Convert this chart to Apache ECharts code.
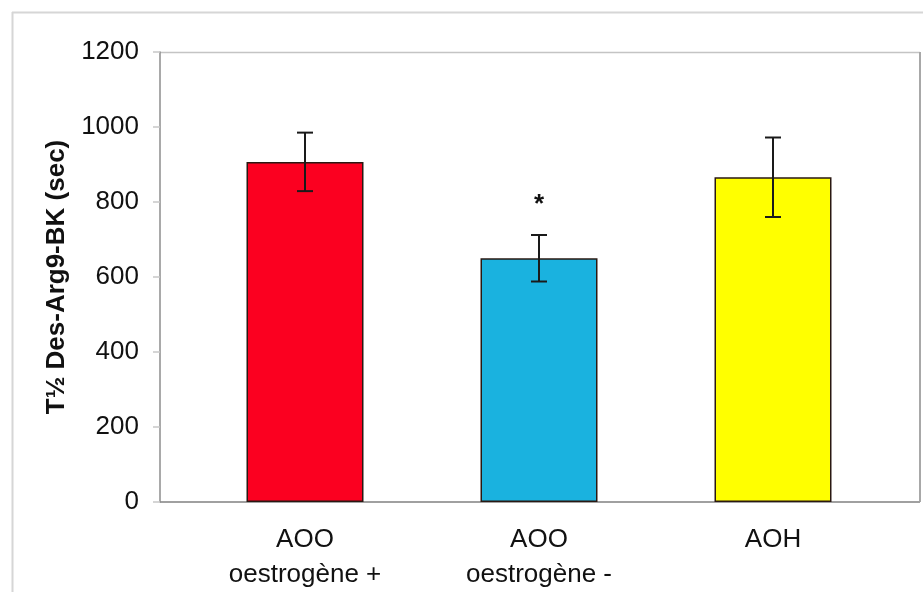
<!DOCTYPE html>
<html>
<head>
<meta charset="utf-8">
<script src="https://cdn.jsdelivr.net/npm/echarts@6/dist/echarts.min.js"></script>
<style>
  html, body { margin: 0; padding: 0; background: #fff; }
  #chart { width: 923px; height: 592px; }
</style>
</head>
<body>
<div id="chart"></div>
<script>
// Half-life of Des-Arg9-BK per group (mean ± SEM)
const categories = ['AOO\noestrogène +', 'AOO\noestrogène -', 'AOH'];
const means = [907, 650, 866];
const errors = [78, 62, 106];
const barColors = ['#fb0020', '#1ab2df', '#ffff00'];
const significance = ['', '*', ''];
const yTicks = { min: 0, max: 1200, interval: 200 };

const chart = echarts.init(document.getElementById('chart'), null, { renderer: 'canvas' });

const errorData = means.map((m, i) => [i, m - errors[i], m + errors[i], significance[i]]);
const FONT = 'Liberation Sans, Arial, sans-serif';

const option = {
  backgroundColor: '#ffffff',
  animation: false,
  grid: { left: 188, right: 33, top: 52, bottom: 90, containLabel: false },
  graphic: [
    // outer chart frame
    { type: 'line', shape: { x1: 12, y1: 12.5, x2: 923, y2: 12.5 }, style: { stroke: '#d6d6d6', lineWidth: 2 }, z: 0 },
    { type: 'line', shape: { x1: 12.5, y1: 12, x2: 12.5, y2: 592 }, style: { stroke: '#d6d6d6', lineWidth: 2 }, z: 0 },
    // plot area frame
    { type: 'line', shape: { x1: 160, y1: 52.5, x2: 920, y2: 52.5 }, style: { stroke: '#c4c4c4', lineWidth: 1.5 }, z: 0 },
    { type: 'line', shape: { x1: 920, y1: 52, x2: 920, y2: 502 }, style: { stroke: '#a8a8a8', lineWidth: 2 }, z: 0 },
    { type: 'line', shape: { x1: 160, y1: 502, x2: 920, y2: 502 }, style: { stroke: '#a0a0a0', lineWidth: 2 }, z: 0 }
  ],
  xAxis: {
    type: 'category',
    data: categories,
    axisLine: { show: false },
    axisTick: { show: false },
    axisLabel: {
      fontFamily: FONT,
      fontSize: 26,
      color: '#111',
      lineHeight: 35,
      verticalAlign: 'top',
      margin: 20
    }
  },
  yAxis: {
    type: 'value',
    min: yTicks.min,
    max: yTicks.max,
    interval: yTicks.interval,
    offset: 28,
    name: 'T½ Des-Arg9-BK (sec)',
    nameLocation: 'middle',
    nameGap: 86,
    nameTextStyle: {
      fontFamily: FONT,
      fontSize: 26,
      fontWeight: 'bold',
      color: '#111'
    },
    axisLine: { show: true, lineStyle: { color: '#8c8c8c', width: 1.5 } },
    axisTick: { show: true, length: 7, lineStyle: { color: '#c8c8c8', width: 1.5 } },
    splitLine: { show: false },
    axisLabel: {
      fontFamily: FONT,
      fontSize: 26,
      color: '#111',
      margin: 21,
      formatter: function (v) { return String(v); }
    }
  },
  series: [
    {
      type: 'bar',
      barWidth: 117,
      data: means.map((v, i) => ({
        value: v,
        itemStyle: { color: barColors[i], borderColor: '#2a1812', borderWidth: 1.5 }
      })),
      z: 2
    },
    {
      type: 'custom',
      data: errorData,
      z: 3,
      renderItem: function (params, api) {
        const i = api.value(0);
        const lo = api.coord([i, api.value(1)]);
        const hi = api.coord([i, api.value(2)]);
        const cap = 8;
        const style = { stroke: '#1a1a1a', lineWidth: 2 };
        const children = [
          { type: 'line', shape: { x1: hi[0], y1: hi[1], x2: lo[0], y2: lo[1] }, style: style },
          { type: 'line', shape: { x1: hi[0] - cap, y1: hi[1], x2: hi[0] + cap, y2: hi[1] }, style: style },
          { type: 'line', shape: { x1: lo[0] - cap, y1: lo[1], x2: lo[0] + cap, y2: lo[1] }, style: style }
        ];
        const mark = significance[params.dataIndex];
        if (mark) {
          children.push({
            type: 'text',
            style: {
              text: mark,
              x: hi[0],
              y: hi[1] - 30,
              align: 'center',
              verticalAlign: 'middle',
              fontFamily: FONT,
              fontSize: 26,
              fontWeight: 'bold',
              fill: '#111'
            }
          });
        }
        return { type: 'group', children: children };
      }
    }
  ]
};

chart.setOption(option);
</script>
</body>
</html>
